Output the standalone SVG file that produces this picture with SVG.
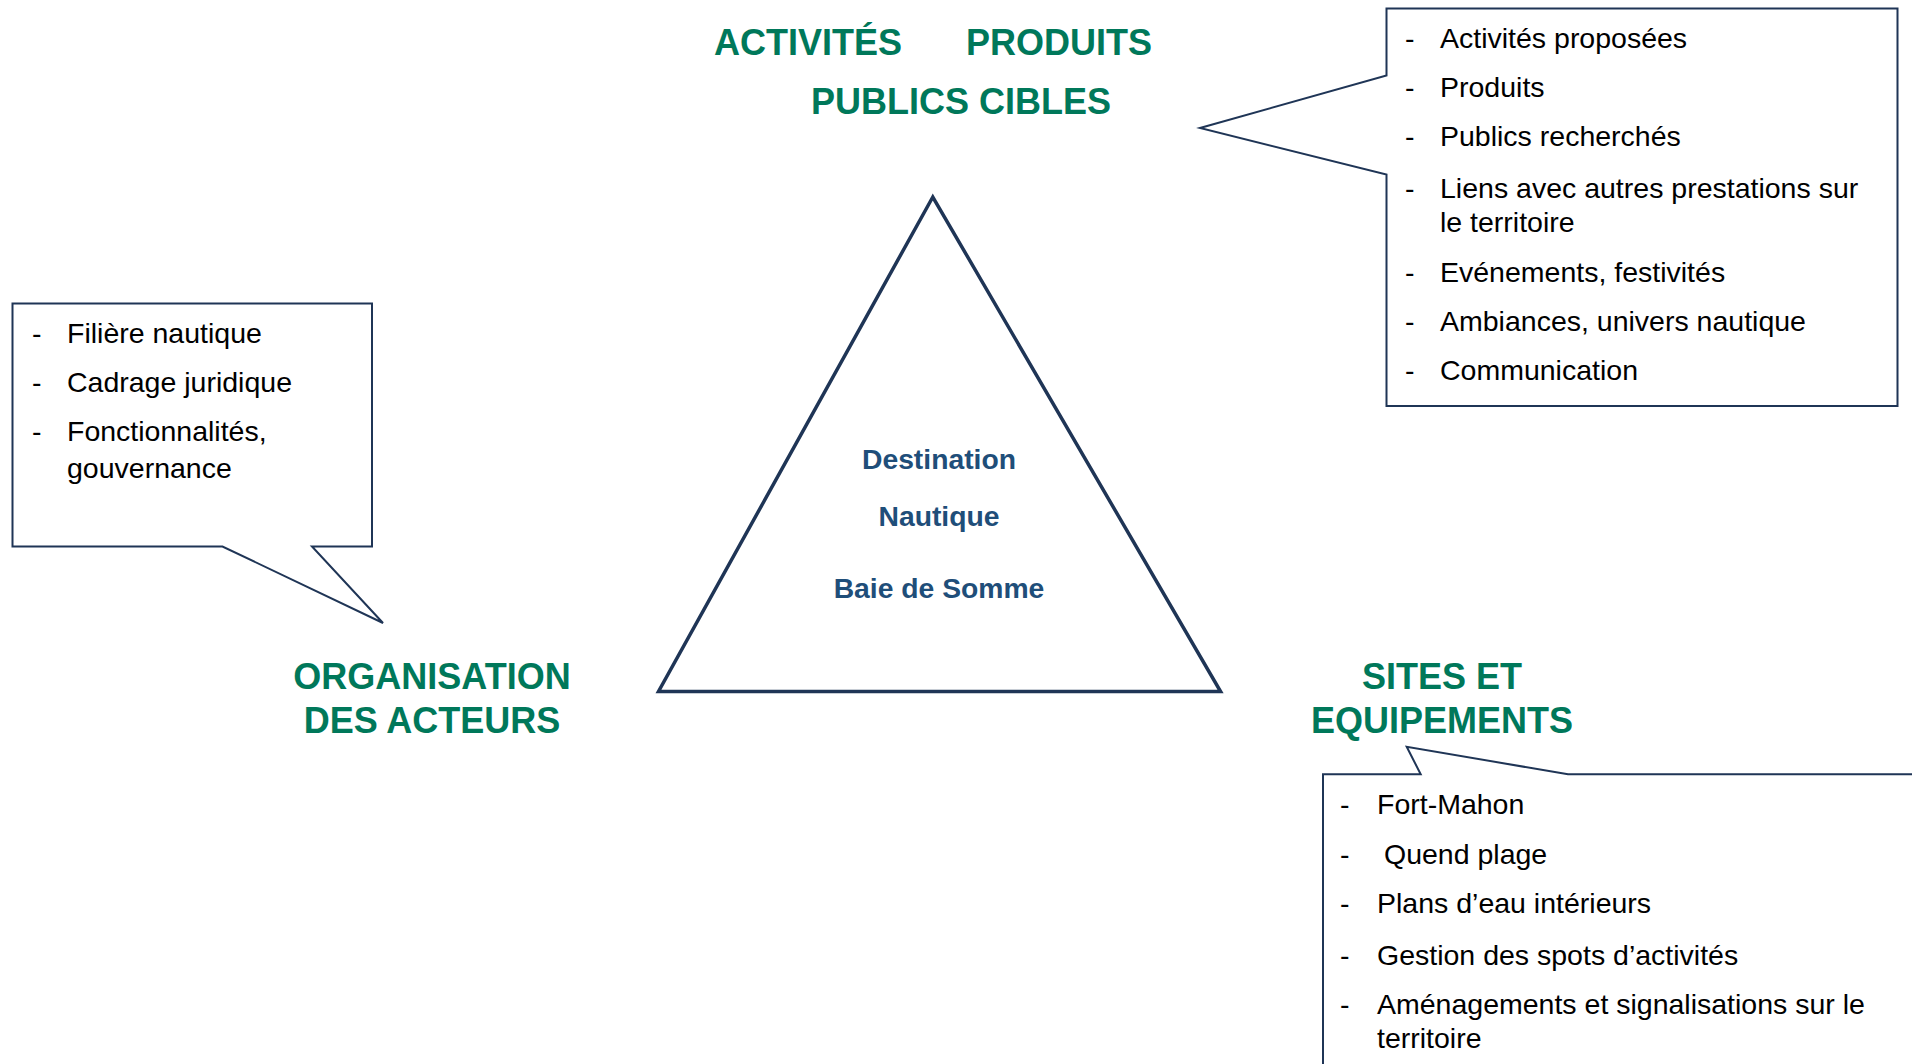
<svg xmlns="http://www.w3.org/2000/svg" width="1912" height="1064" viewBox="0 0 1912 1064">
<style>
.bg{fill:#ffffff}
.callout{fill:#ffffff;stroke:#1f3556;stroke-width:2;stroke-linejoin:miter}
.tri{fill:#ffffff;stroke:#1f3556;stroke-width:3.5;stroke-linejoin:miter}
.title{font-family:"Liberation Sans",Arial,sans-serif;font-weight:bold;font-size:36px;fill:#00785a}
.item{font-family:"Liberation Sans",Arial,sans-serif;font-size:28.5px;fill:#000000}
.center{font-family:"Liberation Sans",Arial,sans-serif;font-weight:bold;font-size:28.3px;fill:#1f4e79}
</style>
<rect class="bg" x="0" y="0" width="1912" height="1064"/>

<g id="titles-top">
<text class="title" x="714" y="55">ACTIVITÉS</text>
<text class="title" x="966" y="55">PRODUITS</text>
<text class="title" x="811" y="113.5">PUBLICS CIBLES</text>
</g>

<g id="callout-activites">
<path class="callout" d="M1386.5,8.5 L1897.5,8.5 L1897.5,406 L1386.5,406 L1386.5,174.5 L1200,128 L1386.5,75.5 Z"/>
<g class="item">
<text x="1405" y="47.5">-</text><text x="1440" y="47.5">Activités proposées</text>
<text x="1405" y="96.5">-</text><text x="1440" y="96.5">Produits</text>
<text x="1405" y="146">-</text><text x="1440" y="146">Publics recherchés</text>
<text x="1405" y="198">-</text><text x="1440" y="198">Liens avec autres prestations sur</text>
<text x="1440" y="231.5">le territoire</text>
<text x="1405" y="281.5">-</text><text x="1440" y="281.5">Evénements, festivités</text>
<text x="1405" y="330.5">-</text><text x="1440" y="330.5">Ambiances, univers nautique</text>
<text x="1405" y="379.5">-</text><text x="1440" y="379.5">Communication</text>
</g>
</g>

<g id="callout-organisation">
<path class="callout" d="M12.5,303.5 L372,303.5 L372,546.5 L312,546.5 L383,623 L222.5,546.5 L12.5,546.5 Z"/>
<g class="item">
<text x="32" y="342.5">-</text><text x="67" y="342.5">Filière nautique</text>
<text x="32" y="391.5">-</text><text x="67" y="391.5">Cadrage juridique</text>
<text x="32" y="440.5">-</text><text x="67" y="440.5">Fonctionnalités,</text>
<text x="67" y="478">gouvernance</text>
</g>
</g>

<g id="label-organisation">
<text class="title" x="432" y="689" text-anchor="middle">ORGANISATION</text>
<text class="title" x="432" y="733" text-anchor="middle">DES ACTEURS</text>
</g>

<g id="destination">
<polygon class="tri" points="932.8,197 658.5,691.5 1220.6,691.5"/>
<text class="center" x="939" y="469" text-anchor="middle">Destination</text>
<text class="center" x="939" y="525.5" text-anchor="middle">Nautique</text>
<text class="center" x="939" y="598" text-anchor="middle">Baie de Somme</text>
</g>

<g id="label-sites">
<text class="title" x="1442" y="689" text-anchor="middle">SITES ET</text>
<text class="title" x="1442" y="733" text-anchor="middle">EQUIPEMENTS</text>
</g>

<g id="callout-sites">
<path class="callout" d="M1323,1080 L1323,774.3 L1420.7,774.3 L1406.7,746.7 L1568,774.3 L1930,774.3 L1930,1080"/>
<g class="item">
<text x="1340" y="814">-</text><text x="1377" y="814">Fort-Mahon</text>
<text x="1340" y="863.5">-</text><text x="1384" y="863.5">Quend plage</text>
<text x="1340" y="913">-</text><text x="1377" y="913">Plans d’eau intérieurs</text>
<text x="1340" y="964.5">-</text><text x="1377" y="964.5">Gestion des spots d’activités</text>
<text x="1340" y="1014">-</text><text x="1377" y="1014">Aménagements et signalisations sur le</text>
<text x="1377" y="1048">territoire</text>
</g>
</g>

<g id="connectors"></g>
</svg>
